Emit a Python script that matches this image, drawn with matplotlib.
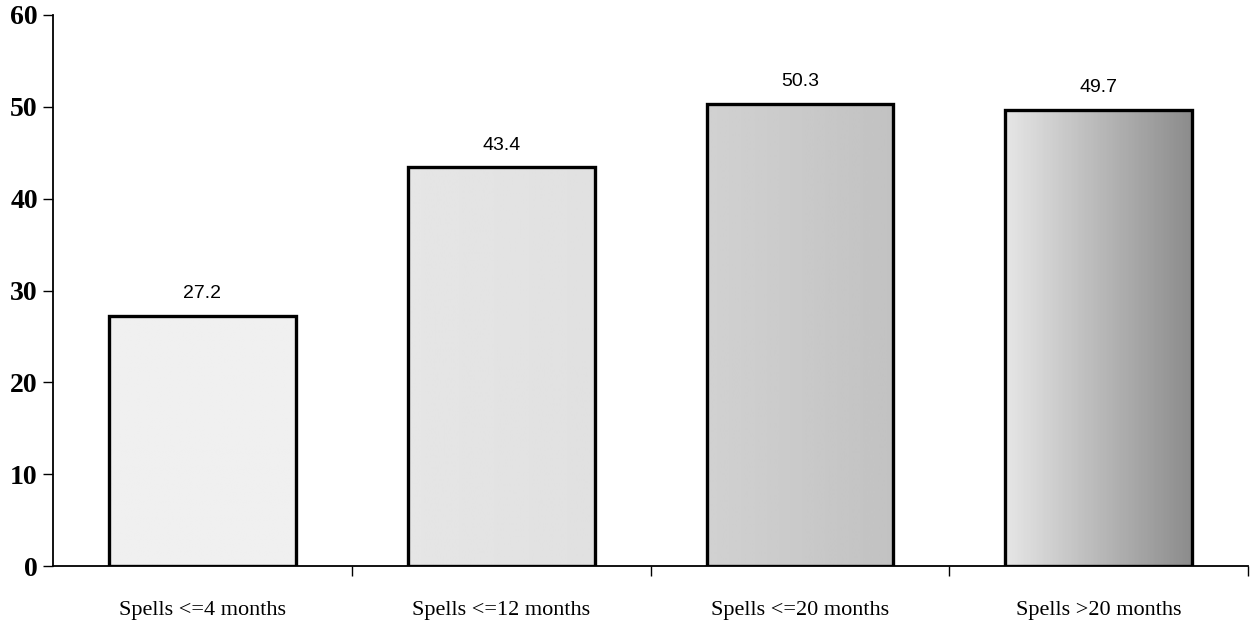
import numpy as np
import matplotlib
matplotlib.use("Agg")
import matplotlib.pyplot as plt
from matplotlib.colors import LinearSegmentedColormap

categories = ["Spells <=4 months", "Spells <=12 months", "Spells <=20 months", "Spells >20 months"]
values = [27.2, 43.4, 50.3, 49.7]
# shade at left and right edge of each bar (0 = white, 1 = black)
shade_left = [0.06, 0.10, 0.18, 0.10]
shade_right = [0.06, 0.12, 0.24, 0.45]
yticks = [0, 10, 20, 30, 40, 50, 60]

fig = plt.figure(figsize=(12.51, 6.25), dpi=100)
ax = fig.add_axes([0.0424, 0.0944, 0.9552, 0.8816])

x = np.arange(len(categories))
bars = ax.bar(x, values, width=0.625, facecolor="none", edgecolor="black",
              linewidth=2.4, zorder=3)

grey = LinearSegmentedColormap.from_list("grey", ["white", "black"])
for bar, sl, sr in zip(bars, shade_left, shade_right):
    x0, w, h = bar.get_x(), bar.get_width(), bar.get_height()
    grad = np.linspace(sl, sr, 64).reshape(1, -1)
    im = ax.imshow(grad, cmap=grey, vmin=0, vmax=1, aspect="auto",
                   extent=[x0, x0 + w, 0, h], zorder=2, interpolation="bilinear")
    im.set_clip_path(bar)

for bar, v in zip(bars, values):
    ax.annotate(f"{v:.1f}", (bar.get_x() + bar.get_width() / 2, v),
                xytext=(0, 10), textcoords="offset points", ha="center",
                va="bottom", fontsize=14, family="Liberation Sans")

ax.set_xlim(-0.5, 3.5)
ax.set_ylim(0, 60)
ax.set_yticks(yticks)
ax.set_yticklabels([str(t) for t in yticks], family="Liberation Serif",
                   fontsize=20, fontweight="bold")
ax.set_xticks(x)
ax.set_xticklabels(categories, family="Liberation Serif", fontsize=16)
ax.tick_params(axis="x", which="major", length=0, pad=25)
ax.set_xticks([0.5, 1.5, 2.5, 3.5], minor=True)
ax.tick_params(axis="x", which="minor", length=7, width=1, direction="out")
ax.tick_params(axis="y", length=7, width=1, direction="out", pad=4)

for side in ["top", "right"]:
    ax.spines[side].set_visible(False)
ax.spines["left"].set_linewidth(1.3)
ax.spines["bottom"].set_linewidth(1.3)

fig.savefig("out.png", dpi=100)
